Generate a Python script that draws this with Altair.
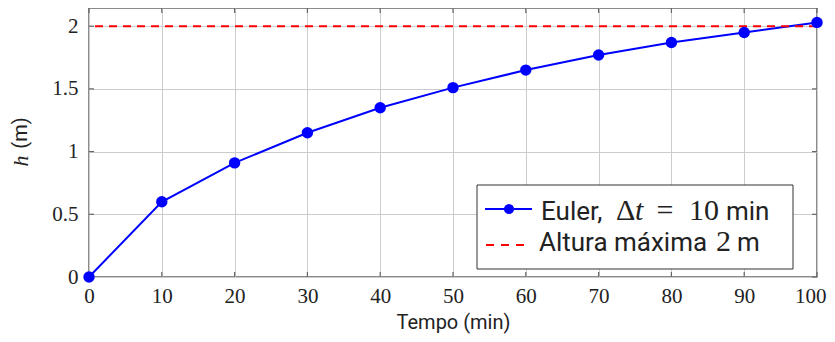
import altair as alt
import pandas as pd

# data
tempo = [0, 10, 20, 30, 40, 50, 60, 70, 80, 90, 100]
altura = [0.0, 0.60, 0.91, 1.15, 1.35, 1.51, 1.65, 1.77, 1.87, 1.95, 2.03]
h_max = 2
x_ticks = [0, 10, 20, 30, 40, 50, 60, 70, 80, 90, 100]
y_ticks = [0, 0.5, 1, 1.5, 2]

W, H = 728, 269
SERIF = "Liberation Serif"
SANS = "Roboto"

df = pd.DataFrame({"t": tempo, "h": altura})
xs = alt.Scale(domain=[0, 100], nice=False, zero=False)
ys = alt.Scale(domain=[0, 2.145], nice=False)

base = alt.Chart(df)

line = base.mark_line(color="#0000ff", strokeWidth=2).encode(
    x=alt.X("t:Q", scale=xs,
            axis=alt.Axis(values=x_ticks, title="Tempo (min)", grid=True, labelFlush=False,
                          labelAlign={"condition": {"test": "datum.value >= 100", "value": "right"},
                                      "value": "center"},
                          labelOffset={"condition": {"test": "datum.value >= 100", "value": 9},
                                       "value": 0},
                          titleBaseline="alphabetic", titleY=51)),
    y=alt.Y("h:Q", scale=ys,
            axis=alt.Axis(values=y_ticks, title=None, grid=True, format="~g")),
)
pts = base.mark_point(filled=True, color="#0000ff", size=130, opacity=1).encode(
    x=alt.X("t:Q", scale=xs), y=alt.Y("h:Q", scale=ys)
)

hline = alt.Chart(alt.Data(values=[{"v": h_max}])).mark_rule(
    color="#ff0000", strokeWidth=2, strokeDash=[8, 6]
).encode(y=alt.Y("v:Q", scale=ys))

# inner tick marks
xt = pd.DataFrame({"v": x_ticks})
yt = pd.DataFrame({"v": y_ticks})
tk = dict(color="#666666", strokeWidth=1.2)
tick_layers = [
    alt.Chart(xt).mark_rule(**tk).encode(x=alt.X("v:Q", scale=xs), y=alt.value(H), y2=alt.value(H - 5)),
    alt.Chart(xt).mark_rule(**tk).encode(x=alt.X("v:Q", scale=xs), y=alt.value(0), y2=alt.value(5)),
    alt.Chart(yt).mark_rule(**tk).encode(y=alt.Y("v:Q", scale=ys), x=alt.value(0), x2=alt.value(5)),
    alt.Chart(yt).mark_rule(**tk).encode(y=alt.Y("v:Q", scale=ys), x=alt.value(W), x2=alt.value(W - 5)),
]

one = alt.Data(values=[{}])


def txt(s, x, y, font, size, style="normal", angle=0, align="left", baseline="alphabetic"):
    return alt.Chart(one).mark_text(
        text=s, font=font, fontSize=size, fontStyle=style, color="#222222",
        align=align, baseline=baseline, angle=angle
    ).encode(x=alt.value(x), y=alt.value(y))


# legend
lx0, lx1, ly0, ly1 = 388, 704, 177, 261
leg_box = alt.Chart(one).mark_rect(fill="white", stroke="#333333", strokeWidth=1).encode(
    x=alt.value(lx0), x2=alt.value(lx1), y=alt.value(ly0), y2=alt.value(ly1)
)
leg_line = alt.Chart(one).mark_rule(color="#0000ff", strokeWidth=2).encode(
    x=alt.value(396), x2=alt.value(443), y=alt.value(201)
)
leg_pt = alt.Chart(one).mark_point(filled=True, color="#0000ff", size=105, opacity=1).encode(
    x=alt.value(420), y=alt.value(201)
)
leg_dash = alt.Chart(one).mark_rule(color="#ff0000", strokeWidth=2, strokeDash=[8, 7]).encode(
    x=alt.value(397), x2=alt.value(437), y=alt.value(237)
)
FS = 26
FM = 30
B1, B2 = 212, 243
legend_texts = [
    txt("Euler,", 452, B1, SANS, FS),
    txt("Δ", 527, B1, SERIF, FM),
    txt("t", 546, B1, SERIF, FM, style="italic"),
    txt("=", 576, B1, SERIF, FM, align="center"),
    txt("10", 600, B1, SERIF, FM),
    txt("min", 637, B1, SANS, FS),
    txt("Altura máxima", 450, B2, SANS, FS),
    txt("2", 627, B2, SERIF, FM),
    txt("m", 648, B2, SANS, FS),
]

ytitle = [
    txt("h", -68, 153, SERIF, 22, style="italic", angle=270, align="center", baseline="middle"),
    txt("(m)", -68, 125, SANS, 20, angle=270, align="center", baseline="middle"),
]

chart = alt.layer(
    line, hline, *tick_layers, pts, leg_box, leg_line, leg_pt, leg_dash, *legend_texts, *ytitle
).properties(
    width=W, height=H,
    autosize=alt.AutoSizeParams(type="none"),
    padding={"left": 81, "top": 0, "right": 10, "bottom": 57},
).configure_view(
    stroke="#666666", strokeWidth=1.5
).configure_axis(
    domain=False, ticks=False, gridColor="#cccccc", gridWidth=1,
    labelFont=SERIF, labelFontSize=21, labelColor="#222222",
    titleFont=SANS, titleFontSize=20, titleColor="#222222", titleFontWeight="normal",
).configure_axisX(labelPadding=8).configure_axisY(labelPadding=11)

chart.save("out.html", embed_options={"renderer": "svg", "actions": False})
